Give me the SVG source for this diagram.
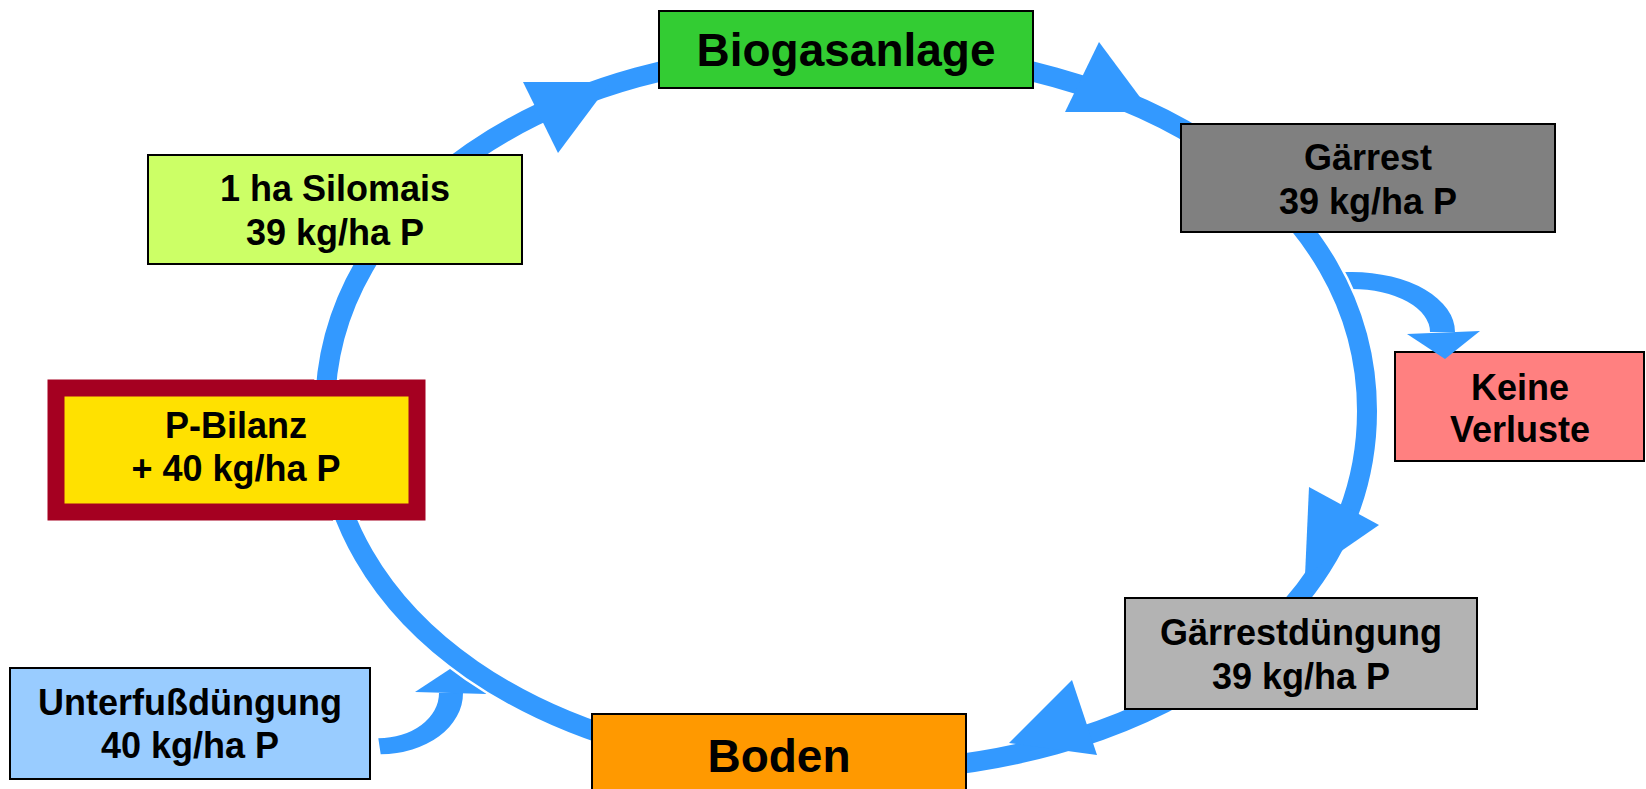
<svg xmlns="http://www.w3.org/2000/svg" width="1646" height="789" viewBox="0 0 1646 789">
<style>
.box{stroke:#000;stroke-width:2}
.t{font-family:"Liberation Sans",Arial,sans-serif;font-weight:bold;text-anchor:middle;fill:#000}
.s{font-size:36px}
.b{font-size:46px}
.ring{fill:none;stroke:#3399FF;stroke-width:20}
.gap{fill:none;stroke:#fff;stroke-width:25}
.arr{fill:#3399FF}
</style>
<defs>
<mask id="ringMask" maskUnits="userSpaceOnUse" x="0" y="0" width="1646" height="789">
<rect x="0" y="0" width="1646" height="789" fill="#fff"/>
<rect x="658" y="10" width="376" height="79" fill="#000"/>
<rect x="1180" y="123" width="376" height="110" fill="#000"/>
<rect x="147" y="154" width="376" height="111" fill="#000"/>
<rect x="47" y="380" width="378" height="140" fill="#000"/>
<rect x="1124" y="597" width="354" height="113" fill="#000"/>
<rect x="591" y="713" width="376" height="80" fill="#000"/>
</mask>
<path id="ringPath" d="M1367,411 C1367,620.1 1148.2,771.5 846,771.5 C543.8,771.5 325,620.1 325,411 C325,201.9 543.8,50.5 846,50.5 C1148.2,50.5 1367,201.9 1367,411 Z"/>
</defs>
<rect x="0" y="0" width="1646" height="789" fill="#fff"/>
<g id="node-biogasanlage">
<rect class="box" x="659" y="11" width="374" height="77" fill="#33CC33"/>
<text class="t b" x="846" y="66">Biogasanlage</text>
</g>
<g id="node-gaerrest">
<rect class="box" x="1181" y="124" width="374" height="108" fill="#808080"/>
<text class="t s" x="1368" y="170">Gärrest</text>
<text class="t s" x="1368" y="214">39 kg/ha P</text>
</g>
<g id="node-silomais">
<rect class="box" x="148" y="155" width="374" height="109" fill="#CCFF66"/>
<text class="t s" x="335" y="201">1 ha Silomais</text>
<text class="t s" x="335" y="245">39 kg/ha P</text>
</g>
<g id="node-pbilanz">
<rect x="56" y="388" width="361" height="124" fill="#FFE100" stroke="#A50021" stroke-width="17"/>
<text class="t s" x="236" y="438">P-Bilanz</text>
<text class="t s" x="236" y="481">+ 40 kg/ha P</text>
</g>
<g id="node-keine-verluste">
<rect class="box" x="1395" y="352" width="249" height="109" fill="#FF8080"/>
<text class="t s" x="1520" y="400">Keine</text>
<text class="t s" x="1520" y="442">Verluste</text>
</g>
<g id="node-gaerrestduengung">
<rect class="box" x="1125" y="598" width="352" height="111" fill="#B3B3B3"/>
<text class="t s" x="1301" y="645">Gärrestdüngung</text>
<text class="t s" x="1301" y="689">39 kg/ha P</text>
</g>
<g id="node-unterfuss">
<rect class="box" x="10" y="668" width="360" height="111" fill="#99CCFF"/>
<text class="t s" x="190" y="715">Unterfußdüngung</text>
<text class="t s" x="190" y="758">40 kg/ha P</text>
</g>
<g id="node-boden">
<rect class="box" x="592" y="714" width="374" height="80" fill="#FF9900"/>
<text class="t b" x="779" y="772">Boden</text>
</g>
<g id="connectors">
<path class="arr" d="M1338,272 L1352,272 A103,60 0 0 1 1455,332 L1430,332 A78,43 0 0 0 1352,289 L1340,289 Z"/>
<polygon class="arr" points="1407,334 1480,331 1445,359"/>
<path class="arr" d="M380.7,754.3 A82.7,61 0 0 0 463,693 L439,693 A61,45 0 0 1 378.3,738.3 Z"/>
<polygon class="arr" points="415,692 453,667 487,694"/>
<use href="#ringPath" class="gap" mask="url(#ringMask)"/>
<use href="#ringPath" class="ring" mask="url(#ringMask)"/>
<polygon class="arr" points="523,82 611,82 558,153"/>
<polygon class="arr" points="1099,42 1065,112 1151,112"/>
<polygon class="arr" points="1309,487 1379,525 1305,576"/>
<polygon class="arr" points="1072,680 1097,755 1009,743"/>
</g>
</svg>
